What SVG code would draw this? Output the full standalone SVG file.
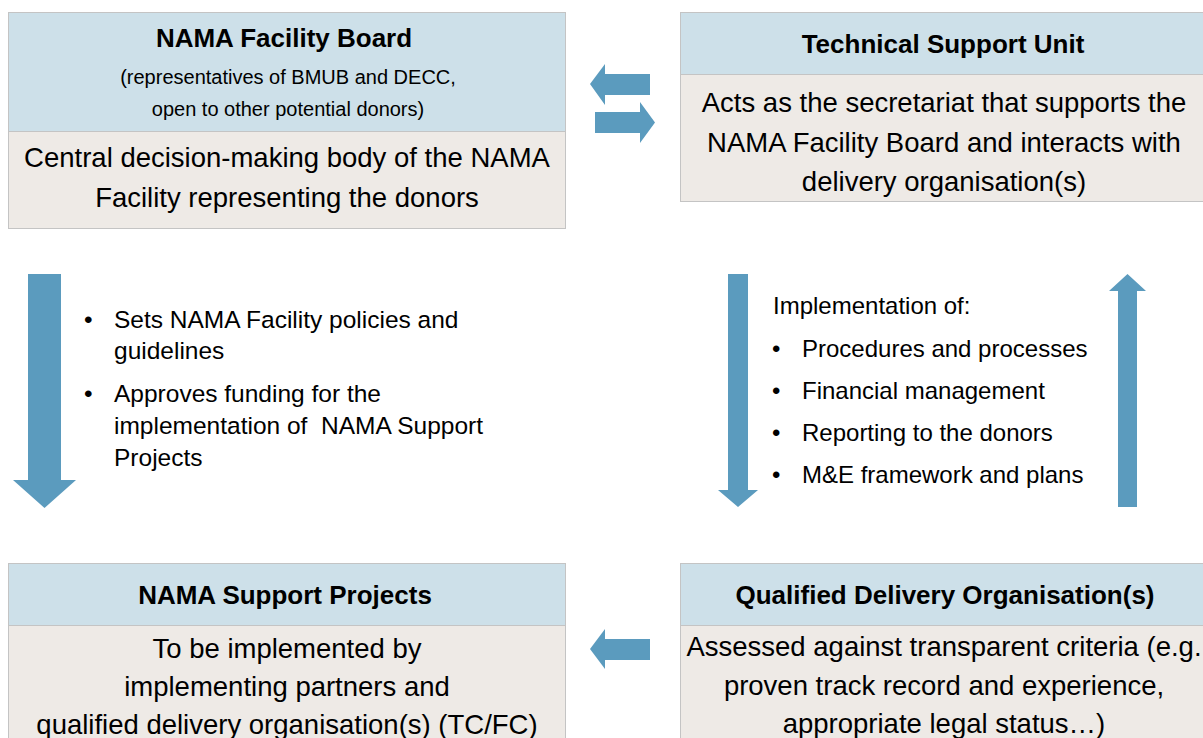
<svg xmlns="http://www.w3.org/2000/svg" width="1203" height="738" viewBox="0 0 1203 738">
<style>
.hd{fill:#CDE0E9;stroke:#C4C4C4;stroke-width:1}
.bd{fill:#EEEAE6;stroke:#C4C4C4;stroke-width:1}
.t{font-family:"Liberation Sans",Arial,sans-serif;font-weight:bold;font-size:26px;fill:#000;text-anchor:middle}
.s{font-family:"Liberation Sans",Arial,sans-serif;font-size:20px;fill:#000;text-anchor:middle}
.b{font-family:"Liberation Sans",Arial,sans-serif;font-size:27.5px;fill:#000;text-anchor:middle}
.l{font-family:"Liberation Sans",Arial,sans-serif;font-size:24px;fill:#000;white-space:pre}
.ll{font-size:24.5px}
.ar{fill:#5B9BBE}
</style>
<rect width="1203" height="738" fill="#fff"/>
<g id="nama-facility-board">
<rect class="hd" x="8.5" y="12.5" width="557" height="119"/>
<rect class="bd" x="8.5" y="131.5" width="557" height="97"/>
<text class="t" x="284" y="47">NAMA Facility Board</text>
<text class="s" x="288" y="84">(representatives of BMUB and DECC,</text>
<text class="s" x="288" y="116">open to other potential donors)</text>
<text class="b" x="287" y="167">Central decision-making body of the NAMA</text>
<text class="b" x="287" y="207">Facility representing the donors</text>
</g>
<g id="technical-support-unit">
<rect class="hd" x="680.5" y="12.5" width="530" height="62"/>
<rect class="bd" x="680.5" y="74.5" width="530" height="127"/>
<text class="t" x="943" y="53">Technical Support Unit</text>
<text class="b" x="944" y="112">Acts as the secretariat that supports the</text>
<text class="b" x="944" y="152">NAMA Facility Board and interacts with</text>
<text class="b" x="944" y="191">delivery organisation(s)</text>
</g>
<g id="nama-support-projects">
<rect class="hd" x="8.5" y="563.5" width="557" height="62"/>
<rect class="bd" x="8.5" y="625.5" width="557" height="120"/>
<text class="t" x="285" y="604">NAMA Support Projects</text>
<text class="b" x="287" y="658">To be implemented by</text>
<text class="b" x="287" y="696">implementing partners and</text>
<text class="b" x="287" y="734">qualified delivery organisation(s) (TC/FC)</text>
</g>
<g id="qualified-delivery-organisations">
<rect class="hd" x="680.5" y="563.5" width="530" height="62"/>
<rect class="bd" x="680.5" y="625.5" width="530" height="120"/>
<text class="t" x="945" y="604">Qualified Delivery Organisation(s)</text>
<text class="b" x="944" y="656">Assessed against transparent criteria (e.g.</text>
<text class="b" x="944" y="695">proven track record and experience,</text>
<text class="b" x="944" y="733">appropriate legal status…)</text>
</g>
<g id="board-functions">
<text class="l ll" x="84" y="328">•</text>
<text class="l ll" x="114" y="328">Sets NAMA Facility policies and</text>
<text class="l ll" x="114" y="359">guidelines</text>
<text class="l ll" x="84" y="402">•</text>
<text class="l ll" x="114" y="402">Approves funding for the</text>
<text class="l ll" x="114" y="434">implementation of  NAMA Support</text>
<text class="l ll" x="114" y="466">Projects</text>
</g>
<g id="tsu-functions">
<text class="l" x="773" y="314">Implementation of:</text>
<text class="l" x="772" y="357">•</text>
<text class="l" x="802" y="357">Procedures and processes</text>
<text class="l" x="772" y="399">•</text>
<text class="l" x="802" y="399">Financial management</text>
<text class="l" x="772" y="441">•</text>
<text class="l" x="802" y="441">Reporting to the donors</text>
<text class="l" x="772" y="483">•</text>
<text class="l" x="802" y="483">M&amp;E framework and plans</text>
</g>
<g id="connectors">
<polygon class="ar" points="590,84 605,64 605,74 650,74 650,95 605,95 605,105"/>
<polygon class="ar" points="595,112 640,112 640,102 655,122.5 640,143 640,133 595,133"/>
<polygon class="ar" points="28,274 61,274 61,480 76,480 44.5,508 13,480 28,480"/>
<polygon class="ar" points="728,274 748,274 748,490 758,490 738,507 718,490 728,490"/>
<polygon class="ar" points="1118,507 1137,507 1137,291 1146,291 1127.5,274 1109,291 1118,291"/>
<polygon class="ar" points="590,649 605,629 605,639 650,639 650,660 605,660 605,669"/>
</g>
</svg>
